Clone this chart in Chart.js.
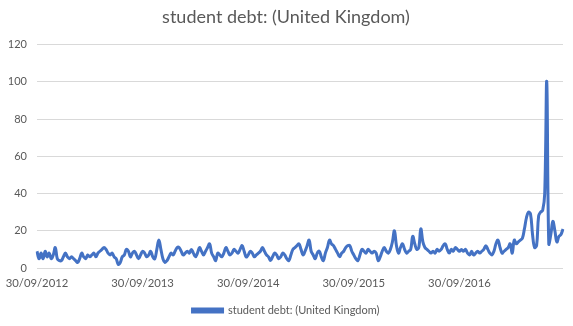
<!DOCTYPE html>
<html>
<head>
<meta charset="utf-8">
<script src="https://cdn.jsdelivr.net/npm/chart.js@4"></script>
<style>
html,body{margin:0;padding:0;background:#fff;}
#wrap{width:573px;height:326px;position:relative;}
</style>
</head>
<body>
<div id="wrap"><canvas id="c" width="573" height="326"></canvas></div>
<script>
const seriesName = 'student debt: (United Kingdom)';
const tickLabels = ['30/09/2012', '30/09/2013', '30/09/2014', '30/09/2015', '30/09/2016'];
const tickEvery = 52;
const values = [
  9, 5, 8, 5, 9, 6, 8, 5, 7, 11,
  5, 4, 4, 6, 8, 6, 5, 6, 5, 4,
  3, 5, 8, 6, 5, 7, 6, 7, 8, 6,
  8, 9, 10, 11, 10, 8, 7, 8, 6, 5,
  2, 3, 6, 7, 10, 9, 6, 8, 9, 7,
  5, 7, 9, 8, 6, 7, 9, 6, 5, 10,
  15, 10, 5, 3, 4, 6, 8, 7, 9, 11,
  11, 9, 7, 8, 9, 8, 10, 8, 6, 8,
  11, 9, 7, 9, 11, 13, 8, 6, 4, 8,
  7, 6, 8, 11, 9, 7, 8, 10, 9, 8,
  10, 12, 9, 6, 7, 9, 8, 6, 7, 8,
  9, 11, 9, 7, 6, 4, 6, 8, 7, 5,
  6, 8, 7, 5, 4, 7, 10, 11, 12, 13,
  10, 7, 9, 12, 15, 9, 7, 5, 8, 9,
  6, 4, 8, 11, 15, 13, 12, 10, 8, 6,
  8, 9, 11, 12, 12, 9, 7, 5, 4, 7,
  10, 9, 8, 10, 9, 8, 9, 8, 4, 6,
  9, 11, 9, 8, 10, 14, 20, 12, 8, 11,
  13, 10, 8, 9, 10, 17, 13, 10, 11, 21,
  14, 11, 10, 9, 8, 9, 8, 10, 9, 10,
  12, 13, 10, 8, 10, 9, 11, 10, 9, 10,
  9, 10, 8, 7, 9, 7, 8, 9, 8, 9,
  10, 12, 10, 8, 7, 9, 13, 15, 11, 8,
  9, 10, 11, 13, 8, 15, 13, 14, 15, 16,
  21, 27, 30, 29, 18, 11, 12, 28, 30, 31,
  40, 100, 13, 18, 25, 20, 14, 17, 18, 21
];
// weekly category labels starting 30/09/2012
const weeks = [];
{
  const d0 = new Date(Date.UTC(2012, 8, 30));
  for (let i = 0; i < values.length; i++) {
    const d = new Date(d0.getTime() + i * 7 * 86400000);
    const dd = String(d.getUTCDate()).padStart(2, '0');
    const mm = String(d.getUTCMonth() + 1).padStart(2, '0');
    weeks.push(dd + '/' + mm + '/' + d.getUTCFullYear());
  }
}
const yTicks = [0, 20, 40, 60, 80, 100, 120];

new Chart(document.getElementById('c'), {
  type: 'line',
  data: {
    labels: weeks,
    datasets: [{
      label: seriesName,
      data: values,
      borderColor: '#4472C4',
      backgroundColor: '#4472C4',
      borderWidth: 3,
      pointRadius: 0,
      tension: 0.4,
      fill: false
    }]
  },
  options: {
    responsive: false,
    animation: false,
    devicePixelRatio: 1,
    layout: { padding: { left: 9, right: 10, top: 6, bottom: 0 } },
    plugins: {
      title: {
        display: true,
        text: seriesName,
        color: '#595959',
        font: { family: 'Lato', size: 18, weight: 'normal' },
        padding: { top: 0, bottom: 17 }
      },
      legend: {
        display: true,
        position: 'bottom',
        labels: {
          color: '#595959',
          font: { family: 'Lato', size: 11 },
          boxWidth: 30,
          boxHeight: 3,
          padding: 10
        }
      },
      tooltip: { enabled: false }
    },
    scales: {
      x: {
        grid: { display: false, drawTicks: false },
        border: { display: false },
        afterFit: function (axis) {
          axis.paddingLeft = 0;
          axis.paddingRight = 0;
          axis.height = 27;
        },
        ticks: {
          color: '#595959',
          font: { family: 'Lato', size: 11.3 },
          autoSkip: false,
          maxRotation: 0,
          padding: 9,
          callback: function (v, i) {
            return (i % tickEvery === 0 && tickLabels[i / tickEvery]) ? tickLabels[i / tickEvery] : '';
          }
        }
      },
      y: {
        min: yTicks[0],
        max: yTicks[yTicks.length - 1],
        grid: { color: '#D9D9D9', drawTicks: false },
        border: { display: false },
        afterFit: function (axis) {
          axis.width = 28;
        },
        ticks: {
          stepSize: 20,
          color: '#595959',
          font: { family: 'Lato', size: 11 },
          padding: 10
        }
      }
    }
  }
});
</script>
</body>
</html>
